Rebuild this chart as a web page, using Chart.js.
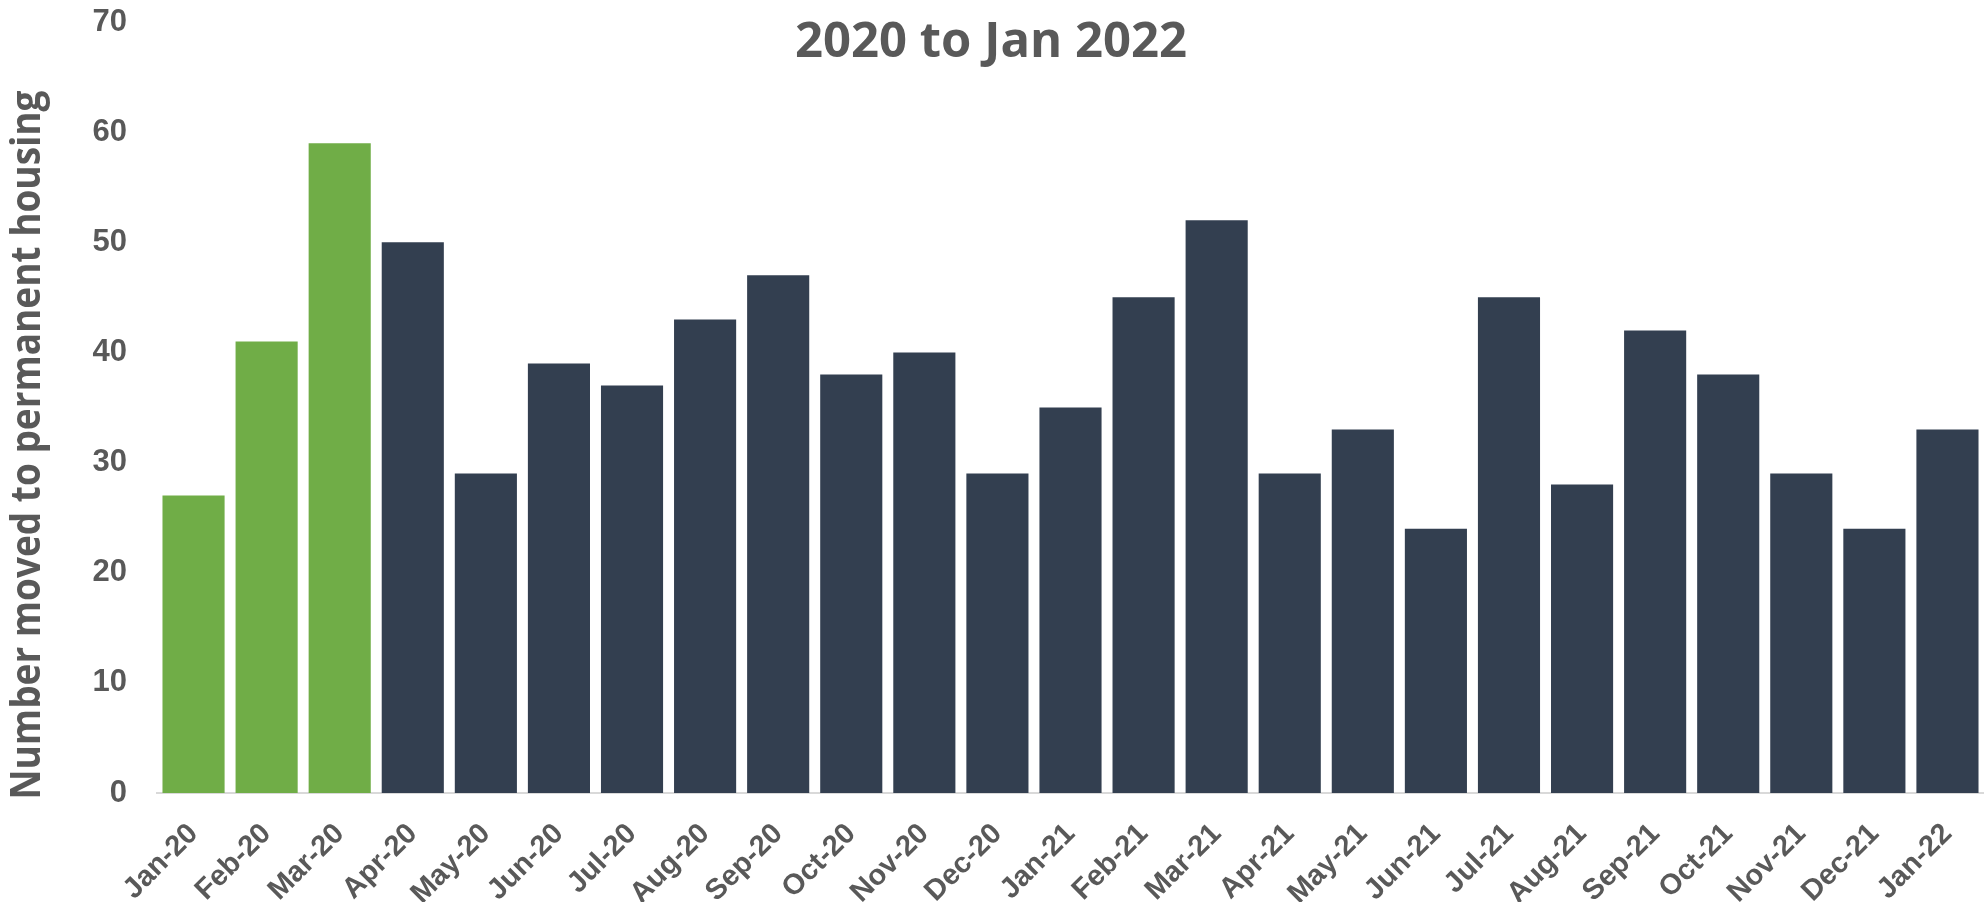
<!DOCTYPE html>
<html>
<head>
<meta charset="utf-8">
<script src="https://cdn.jsdelivr.net/npm/chart.js@4.4.1/dist/chart.umd.min.js"></script>
<style>
  html, body { margin: 0; padding: 0; background: #ffffff; }
  #wrap { position: relative; width: 1984px; height: 902px; }
  canvas { display: block; }
</style>
</head>
<body>
<div id="wrap"><canvas id="c" width="1984" height="902"></canvas></div>
<script>
// ---- data ----
const months = ["Jan-20","Feb-20","Mar-20","Apr-20","May-20","Jun-20","Jul-20","Aug-20","Sep-20","Oct-20","Nov-20","Dec-20",
                "Jan-21","Feb-21","Mar-21","Apr-21","May-21","Jun-21","Jul-21","Aug-21","Sep-21","Oct-21","Nov-21","Dec-21","Jan-22"];
const movedToHousing = [27,41,59,50,29,39,37,43,47,38,40,29,35,45,52,29,33,24,45,28,42,38,29,24,33];
const preCovidMonths = ["Jan-20","Feb-20","Mar-20"];
const yTicks = [0,10,20,30,40,50,60,70];
const titleText = "2020 to Jan 2022";
const yTitleText = "Number moved to permanent housing";

const GREEN = "#70AD47";
const NAVY = "#333F50";
const TEXT = "#595959";
const barColors = months.map(m => preCovidMonths.includes(m) ? GREEN : NAVY);

const overlayText = {
  id: "overlayText",
  afterDraw(chart) {
    const ctx = chart.ctx;
    ctx.save();
    ctx.fillStyle = TEXT;
    // chart title
    ctx.font = "bold 49px 'Open Sans'";
    ctx.textAlign = "center";
    ctx.textBaseline = "middle";
    ctx.fillText(titleText, 991, 43);
    // y axis title
    ctx.font = "bold 42px 'Open Sans'";
    const w = ctx.measureText(yTitleText).width;
    const target = 709;
    ctx.translate(28, 445);
    ctx.rotate(-Math.PI / 2);
    ctx.scale(target / w, 1);
    ctx.fillText(yTitleText, 0, 0);
    ctx.restore();
  }
};

new Chart(document.getElementById("c"), {
  type: "bar",
  data: {
    labels: months,
    datasets: [{
      data: movedToHousing,
      backgroundColor: barColors,
      borderWidth: 0,
      barPercentage: 0.85,
      categoryPercentage: 1.0
    }]
  },
  options: {
    responsive: false,
    animation: false,
    devicePixelRatio: 1,
    layout: { padding: { top: 22, right: 0, left: 0, bottom: 0 } },
    plugins: { legend: { display: false }, tooltip: { enabled: false }, title: { display: false } },
    scales: {
      x: {
        grid: { display: false, drawTicks: false },
        border: { display: true, color: "#D9D9D9", width: 2 },
        ticks: {
          color: TEXT,
          font: { family: "'Liberation Sans', Arial", size: 29, weight: "bold" },
          minRotation: 45, maxRotation: 45,
          padding: 24,
          autoSkip: false
        },
        afterFit(scale) { scale.height = 109; scale.paddingRight = 0; }
      },
      y: {
        min: 0, max: 70,
        afterBuildTicks(scale) { scale.ticks = yTicks.map(v => ({ value: v })); },
        grid: { display: false, drawTicks: false },
        border: { display: false },
        ticks: {
          color: TEXT,
          font: { family: "'Liberation Sans', Arial", size: 31, weight: "bold" },
          padding: 30
        },
        afterFit(scale) { scale.width = 157; scale.paddingTop = 0; scale.paddingBottom = 0; }
      }
    }
  },
  plugins: [overlayText]
});
</script>
</body>
</html>
